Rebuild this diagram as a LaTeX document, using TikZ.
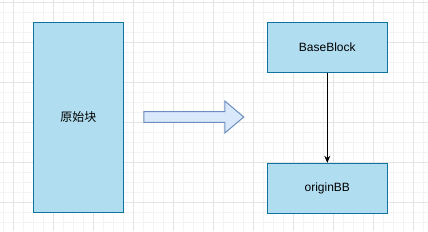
\documentclass[tikz,border=0pt]{standalone}
\usepackage{fontspec}
\setmainfont{Liberation Sans}
\newfontfamily\cjk{Noto Sans CJK SC}
\usetikzlibrary{arrows.meta,positioning,calc}
\definecolor{blkfill}{HTML}{B1DDF0}
\definecolor{blkline}{HTML}{10739E}
\definecolor{arrfill}{HTML}{DAE8FC}
\definecolor{arrline}{HTML}{6C8EBF}
\definecolor{gridmajor}{HTML}{E4E4E4}
\definecolor{gridminor}{HTML}{F3F3F3}

\begin{document}
\begin{tikzpicture}[
  x=1pt, y=-1pt,
  font=\fontsize{12}{14}\selectfont,
  blk/.style={draw=blkline, fill=blkfill, line width=1pt, inner sep=0pt},
  d/.style={-{Stealth[length=7pt,width=6pt]}, line width=1pt},
  bigarrow/.style={draw=arrline, fill=arrfill, line width=1pt, line join=miter}
]
\useasboundingbox (0,0) rectangle (428,231);
\fill[white] (0,0) rectangle (428,231);
% grid
\foreach \k in {0,...,43} \draw[gridminor, line width=0.8pt] (3.3+10*\k,0) -- (3.3+10*\k,231);
\foreach \k in {0,...,23} \draw[gridminor, line width=0.8pt] (0,2.3+10*\k) -- (428,2.3+10*\k);
\foreach \k in {0,...,10} \draw[gridmajor, line width=0.8pt] (13.3+40*\k,0) -- (13.3+40*\k,231);
\foreach \k in {0,...,5} \draw[gridmajor, line width=0.8pt] (0,2.3+40*\k) -- (428,2.3+40*\k);

\node[blk, minimum width=90pt, minimum height=190pt] (orig) at (78.3,117.3) {\cjk 原始块};
\node[blk, minimum width=120pt, minimum height=50pt] (base) at (327.3,47.3) {BaseBlock};
\node[blk, minimum width=120pt, minimum height=50pt, below=90pt of base] (obb) {originBB};
\draw[d] (base) -- (obb);

% block arrow
\coordinate (a0) at ($(orig.east)+(20,-0.3)$);
\draw[bigarrow] ($(a0)+(0,-5.3)$) -- ($(a0)+(81,-5.3)$) -- ($(a0)+(81,-16)$)
  -- ($(a0)+(100,0)$) -- ($(a0)+(81,16)$) -- ($(a0)+(81,5.3)$)
  -- ($(a0)+(0,5.3)$) -- cycle;
\end{tikzpicture}
\end{document}
